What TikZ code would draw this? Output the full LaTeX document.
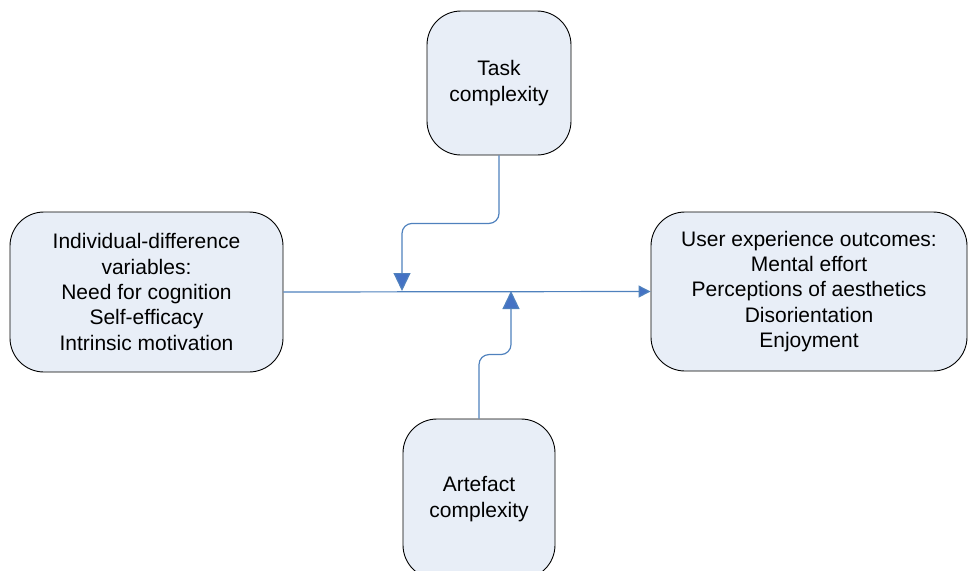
\documentclass[tikz,border=0pt]{standalone}
\usepackage{fontspec}
\setmainfont{Liberation Sans}
\usetikzlibrary{arrows.meta}
\definecolor{boxfill}{RGB}{232,238,247}
\definecolor{linkblue}{RGB}{79,129,189}
\definecolor{tipblue}{RGB}{68,114,196}
\begin{document}
\begin{tikzpicture}[x=1pt,y=-1pt,
    box/.style={draw=black,line width=0.9pt,fill=boxfill,rounded corners=34pt,
      align=center,inner sep=0pt,font=\fontsize{21}{25.3}\selectfont},
    link/.style={draw=linkblue,line width=1.2pt}]
			\useasboundingbox (0,0) rectangle (968,570);

			% cajas
			\node[box,minimum width=144pt,minimum height=144pt] (task) at (499,83) {Task\\complexity};
			\node[box,minimum width=273pt,minimum height=160pt] (indiv) at (146.5,292)
			  {Individual-difference\\variables:\\Need for cognition\\Self-efficacy\\Intrinsic motivation};
			\node[box,minimum width=316pt,minimum height=159pt] (ux) at (809,291.5)
			  {User experience outcomes:\\Mental effort\\Perceptions of aesthetics\\Disorientation\\Enjoyment};
			\node[box,minimum width=152pt,minimum height=160pt] (artef) at (479,499) {Artefact\\complexity};

			\coordinate (tk) at (402,291);
			\coordinate (ar) at (511,291);

			% flechas
			\begin{scope}[link]
			\draw[-{Triangle[width=12pt,length=12pt,fill=tipblue]}] (indiv.east) -- (ux.west);
			\draw[rounded corners=10pt,-{Triangle[width=17pt,length=18pt,fill=tipblue]}] (task.south) -- ++(0,68) -| (tk);
			\draw[rounded corners=10pt,-{Triangle[width=17pt,length=18pt,fill=tipblue]}] (artef.north) -- ++(0,-64) -| (ar);
			\end{scope}
		    \end{tikzpicture}
\end{document}
